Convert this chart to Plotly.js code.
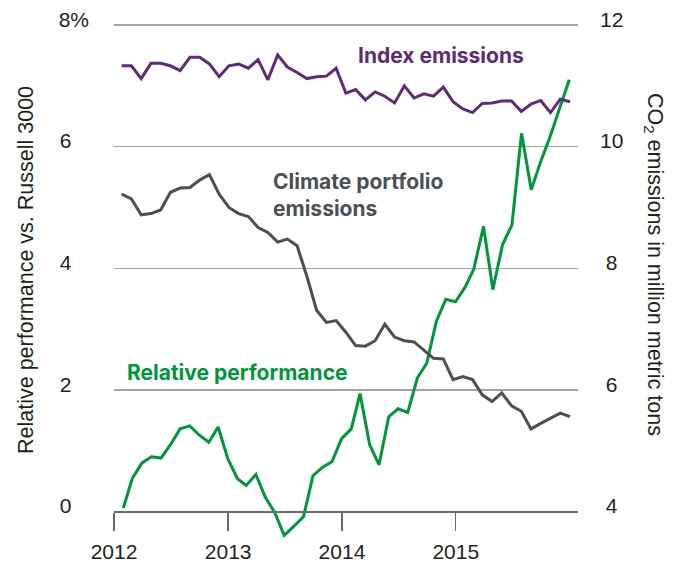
<!DOCTYPE html>
<html>
<head>
<meta charset="utf-8">
<script src="https://cdn.plot.ly/plotly-3.0.1.min.js"></script>
<style>html,body{margin:0;padding:0;background:#fff;}#chart{width:678px;height:575px;}</style>
</head>
<body>
<div id="chart"></div>
<script>
// Relative performance vs. Russell 3000 (%), monthly, month-end dates
const perfDates = [
  '2012-01-31','2012-02-29','2012-03-31','2012-04-30','2012-05-31','2012-06-30','2012-07-31','2012-08-31','2012-09-30','2012-10-31','2012-11-30','2012-12-31',
  '2013-01-31','2013-02-28','2013-03-31','2013-04-30','2013-05-31','2013-06-30','2013-07-31','2013-08-31','2013-09-30','2013-10-31','2013-11-30','2013-12-31',
  '2014-01-31','2014-02-28','2014-03-31','2014-04-30','2014-05-31','2014-06-30','2014-07-31','2014-08-31','2014-09-30','2014-10-31','2014-11-30','2014-12-31',
  '2015-01-31','2015-02-28','2015-03-31','2015-04-30','2015-05-31','2015-06-30','2015-07-31','2015-08-31','2015-09-30','2015-10-31','2015-11-30','2015-12-31'
];
const relativePerformance = [
  0.06,0.55,0.80,0.90,0.88,1.10,1.36,1.41,1.26,1.14,1.39,0.87,
  0.54,0.43,0.61,0.24,-0.02,-0.39,-0.24,-0.08,0.59,0.73,0.82,1.20,
  1.36,1.94,1.10,0.77,1.56,1.69,1.63,2.20,2.44,3.13,3.49,3.45,
  3.69,3.99,4.69,3.65,4.39,4.71,6.22,5.29,5.75,6.17,6.63,7.10
];
// CO2 emissions (million metric tons), 47 observations over the same span
const indexEmissions = [
  11.33,11.33,11.12,11.37,11.37,11.33,11.25,11.47,11.47,11.36,
  11.15,11.33,11.36,11.29,11.43,11.10,11.51,11.31,11.22,11.12,
  11.15,11.16,11.29,10.88,10.94,10.77,10.90,10.83,10.72,11.00,
  10.80,10.87,10.83,10.98,10.74,10.62,10.56,10.71,10.72,10.75,
  10.75,10.58,10.70,10.76,10.56,10.78,10.74
];
const climateEmissions = [
  9.22,9.14,8.88,8.90,8.96,9.25,9.32,9.33,9.45,9.54,
  9.22,9.00,8.90,8.85,8.67,8.59,8.43,8.48,8.37,7.87,
  7.31,7.11,7.14,6.95,6.73,6.72,6.81,7.08,6.87,6.81,
  6.79,6.65,6.52,6.51,6.17,6.22,6.17,5.92,5.81,5.95,
  5.74,5.65,5.36,5.45,5.54,5.62,5.56
];
const xTickVals = ['2012-01-01','2013-01-01','2014-01-01','2015-01-01'];
const xTickText = ['2012','2013','2014','2015'];
const leftTickVals = [0,2,4,6,8];
const leftTickText = ['0','2','4','6','8%'];
const rightTickVals = [4,6,8,10,12];
const rightTickText = ['4','6','8','10','12'];

const NB = '\u00a0';
const emisIdx = indexEmissions.map((_, i) => i);

// layout geometry (pixels)
const L = 114, T = 22, W = 464, H = 520;
const px = x => (x - L) / W;
const py = y => (T + H - y) / H;

const PURPLE = '#5f2a7c', GREEN = '#00973a', GREY = '#4a5056';
const TICKFONT = {family: 'Liberation Sans, Arial, sans-serif', size: 21, color: '#231f20'};
const TITLEFONT = {family: 'Liberation Sans, Arial, sans-serif', size: 21.5, color: '#231f20'};
const LABFONT = 'Inter, Roboto, Liberation Sans, sans-serif';

const traces = [
  {x: emisIdx, y: indexEmissions, xaxis: 'x2', yaxis: 'y2', type: 'scatter', mode: 'lines',
   line: {color: PURPLE, width: 3}, name: 'Index emissions', hoverinfo: 'skip'},
  {x: emisIdx, y: climateEmissions, xaxis: 'x2', yaxis: 'y2', type: 'scatter', mode: 'lines',
   line: {color: GREY, width: 3}, name: 'Climate portfolio emissions', hoverinfo: 'skip'},
  {x: perfDates, y: relativePerformance, type: 'scatter', mode: 'lines',
   line: {color: GREEN, width: 3}, name: 'Relative performance', hoverinfo: 'skip'}
];

const n = emisIdx.length - 1;
const e0 = 7.7 / W, e1 = 456 / W; // fractional positions of first/last emission observation
const span = n / (e1 - e0);
const x2min = -e0 * span;

const yMin = -0.5, yMax = 8.05;

const layout = {
  width: 678, height: 575,
  margin: {l: L, r: 678 - L - W, t: T, b: 575 - T - H},
  paper_bgcolor: '#fff', plot_bgcolor: '#fff',
  showlegend: false,
  xaxis: {
    type: 'date', range: ['2012-01-01', '2016-01-28'],
    anchor: 'free', position: -yMin / (yMax - yMin),
    tickvals: xTickVals, ticktext: xTickText,
    ticks: 'outside', ticklen: 18, tickwidth: 1.3, tickcolor: '#6b6b6b',
    ticklabelstandoff: 3,
    showline: true, linecolor: '#6b6b6b', linewidth: 2.5,
    showgrid: false, zeroline: false,
    tickfont: TICKFONT
  },
  xaxis2: {
    type: 'linear', overlaying: 'x', range: [x2min, x2min + span],
    visible: false, showgrid: false, zeroline: false
  },
  yaxis: {
    range: [yMin, yMax],
    tickvals: leftTickVals,
    ticktext: leftTickText.map(t => t.length === 1 ? t + NB + NB + NB : t),
    ticklabelposition: 'outside top', ticklabeloverflow: 'allow',
    ticks: '', ticklabelstandoff: 24, ticklabelshift: 9,
    showgrid: true, gridcolor: '#a3a3a3', gridwidth: 1.3,
    zeroline: false, showline: false,
    tickfont: TICKFONT
  },
  yaxis2: {
    range: [yMin + 4, yMax + 4], overlaying: 'y', side: 'right',
    tickvals: rightTickVals,
    ticktext: rightTickText.map(t => t.length === 1 ? NB + t : t),
    ticklabelposition: 'outside top', ticklabeloverflow: 'allow',
    ticks: '', ticklabelstandoff: 21, ticklabelshift: 9,
    showgrid: false, zeroline: false, showline: false,
    tickfont: TICKFONT
  },
  annotations: [
    {text: '<b>Index emissions</b>', xref: 'paper', yref: 'paper', x: px(356), y: py(55),
     xanchor: 'left', yanchor: 'middle', showarrow: false,
     font: {family: LABFONT, size: 21, color: PURPLE}},
    {text: '<b>Climate portfolio<br>emissions</b>', xref: 'paper', yref: 'paper', x: px(271), y: py(195),
     xanchor: 'left', yanchor: 'middle', align: 'left', showarrow: false,
     font: {family: LABFONT, size: 21, color: GREY}},
    {text: '<b>Relative performance</b>', xref: 'paper', yref: 'paper', x: px(125), y: py(372),
     xanchor: 'left', yanchor: 'middle', showarrow: false,
     font: {family: LABFONT, size: 21, color: GREEN}},
    {text: 'Relative performance vs. Russell 3000', xref: 'paper', yref: 'paper',
     x: px(26), y: py(270), textangle: -90, xanchor: 'center', yanchor: 'middle', showarrow: false,
     font: TITLEFONT},
    {text: 'CO<sub>2</sub> emissions in million metric tons', xref: 'paper', yref: 'paper',
     x: px(654), y: py(264), textangle: 90, xanchor: 'center', yanchor: 'middle', showarrow: false,
     font: TITLEFONT}
  ]
};

Plotly.newPlot('chart', traces, layout, {staticPlot: true, displayModeBar: false});
</script>
</body>
</html>
